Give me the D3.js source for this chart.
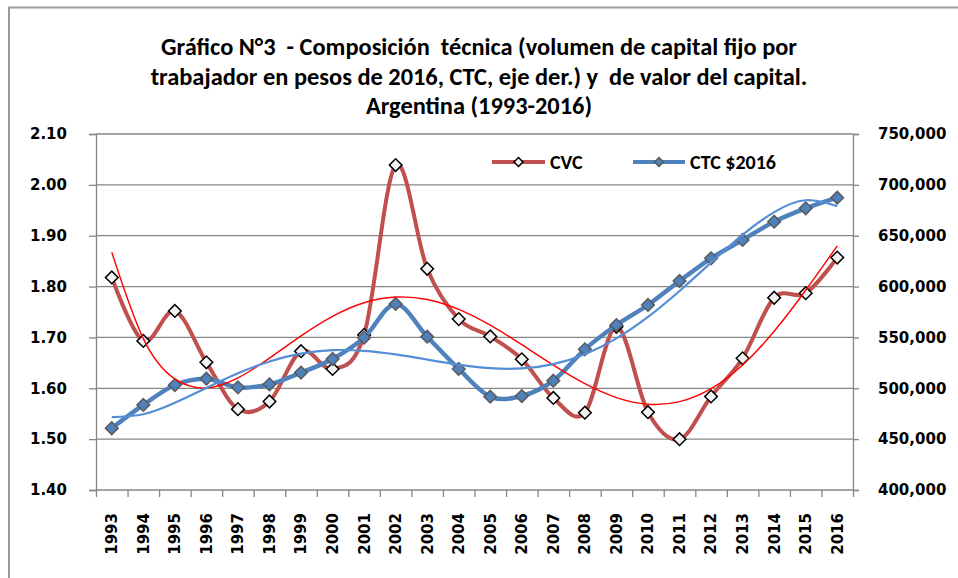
<!DOCTYPE html>
<html><head><meta charset="utf-8">
<script src="https://cdn.jsdelivr.net/npm/d3@7/dist/d3.min.js"></script>
<style>body{margin:0;background:#fff}svg{display:block}</style>
</head><body><svg id="c" width="958" height="578"></svg>
<script>
const years = ["1993","1994","1995","1996","1997","1998","1999","2000","2001","2002","2003","2004","2005","2006","2007","2008","2009","2010","2011","2012","2013","2014","2015","2016"];
const cvc = [1.818,1.693,1.752,1.651,1.559,1.574,1.673,1.638,1.705,2.039,1.835,1.736,1.702,1.657,1.581,1.552,1.721,1.553,1.500,1.584,1.659,1.778,1.787,1.857];
const ctc = [460700,483600,503200,509400,500900,503900,515400,528800,549800,582900,550700,519000,491800,492400,507500,538300,562200,581900,605500,627800,645800,663800,676900,687400];
const leftTicks = [1.40,1.50,1.60,1.70,1.80,1.90,2.00,2.10];
const rightTicks = [400000,450000,500000,550000,600000,650000,700000,750000];
const titleLines = ["Gráfico N°3  - Composición  técnica (volumen de capital fijo por","trabajador en pesos de 2016, CTC, eje der.) y  de valor del capital.","Argentina (1993-2016)"];
const seriesNames = ["CVC","CTC $2016"];
const cvcTrendOrder = 5;
const ctcTrendOrder = 6;

const svg = d3.select("#c");
const L = 96, R = 853, T = 134, B = 490;
const titleFont = "Carlito,Calibri,'Liberation Sans Narrow','Open Sans',sans-serif";
const axisFont = "'DejaVu Sans',Verdana,sans-serif";

svg.append("rect").attr("x",9).attr("y",7.5).attr("width",960).attr("height",580)
  .attr("fill","none").attr("stroke","#9a9a9a").attr("stroke-width",2);

const x = d3.scaleBand().domain(years).range([L,R]);
const cx = d => x(d) + x.bandwidth()/2;
const yL = d3.scaleLinear().domain([1.4,2.1]).range([B,T]);
const yR = d3.scaleLinear().domain([400000,750000]).range([B,T]);

svg.append("g").selectAll("line").data(leftTicks.slice(1)).join("line")
  .attr("x1",L).attr("x2",R).attr("y1",d=>yL(d)).attr("y2",d=>yL(d))
  .attr("stroke","#868686").attr("stroke-width",1.3);

const gL = svg.append("g").attr("transform",`translate(${L},0)`)
  .call(d3.axisLeft(yL).tickValues(leftTicks).tickFormat(d3.format(".2f")).tickSize(7).tickPadding(22));
const gR = svg.append("g").attr("transform",`translate(${R},0)`)
  .call(d3.axisRight(yR).tickValues(rightTicks).tickFormat(d3.format(",")).tickSize(6).tickPadding(19));
const bnd = d3.scaleLinear().domain([0,years.length]).range([L,R]);
const gB = svg.append("g").attr("transform",`translate(0,${B})`)
  .call(d3.axisBottom(bnd).tickValues(d3.range(years.length+1)).tickFormat("").tickSize(7));
const gX = svg.append("g").attr("transform",`translate(0,${B})`)
  .call(d3.axisBottom(x).tickSize(0));
gX.select(".domain").remove();
gX.selectAll("text").attr("x",0).attr("y",0).attr("dy","0.36em")
  .attr("text-anchor","end").attr("transform","translate(0,23) rotate(-90)");
[gL,gR,gB].forEach(g=>{
  g.selectAll(".domain,.tick line").attr("stroke","#868686").attr("stroke-width",1.3);
});
gB.select(".domain").attr("d",`M${L},0H${R}`);
[gL,gR,gX].forEach(g=>g.selectAll("text").attr("font-family",axisFont).attr("font-size","15px")
  .attr("font-weight","bold").attr("fill","#000"));

function polyFit(ys, order){
  const n = ys.length, m = order+1;
  const ts = ys.map((_,i)=>(i-(n-1)/2)/((n-1)/2));
  const A = Array.from({length:m},()=>new Array(m+1).fill(0));
  for(let i=0;i<n;i++){
    const p = []; for(let k=0;k<m;k++) p.push(Math.pow(ts[i],k));
    for(let r=0;r<m;r++){ for(let c=0;c<m;c++) A[r][c]+=p[r]*p[c]; A[r][m]+=p[r]*ys[i]; }
  }
  for(let c=0;c<m;c++){
    let piv=c; for(let r=c+1;r<m;r++) if(Math.abs(A[r][c])>Math.abs(A[piv][c])) piv=r;
    [A[c],A[piv]]=[A[piv],A[c]];
    for(let r=0;r<m;r++){ if(r===c) continue; const f=A[r][c]/A[c][c];
      for(let k=c;k<=m;k++) A[r][k]-=f*A[c][k]; }
  }
  const coef = A.map((row,i)=>row[m]/row[i]);
  return ts.map(t=>coef.reduce((s,c,k)=>s+c*Math.pow(t,k),0));
}
const cvcTrend = polyFit(cvc, cvcTrendOrder);
const ctcTrend = polyFit(ctc, ctcTrendOrder);

const smooth = d3.curveCardinal.tension(0);
const lineL = d3.line().x((d,i)=>cx(years[i])).y(d=>yL(d)).curve(smooth);
const lineR = d3.line().x((d,i)=>cx(years[i])).y(d=>yR(d)).curve(smooth);
const lineLt = d3.line().x((d,i)=>cx(years[i])).y(d=>yL(d)).curve(d3.curveNatural);
const lineRt = d3.line().x((d,i)=>cx(years[i])).y(d=>yR(d)).curve(d3.curveNatural);
const diamond = d3.symbol().type(d3.symbolSquare).size(80);

svg.append("path").datum(cvc).attr("d",lineL).attr("fill","none").attr("stroke","#C0504D").attr("stroke-width",4);
svg.append("g").selectAll("path").data(cvc).join("path").attr("d",diamond)
  .attr("transform",(d,i)=>`translate(${cx(years[i])},${yL(d)}) rotate(45)`)
  .attr("fill","#F2F2F2").attr("stroke","#000").attr("stroke-width",1.5);
svg.append("path").datum(ctc).attr("d",lineR).attr("fill","none").attr("stroke","#4F81BD").attr("stroke-width",4.5);
svg.append("g").selectAll("path").data(ctc).join("path").attr("d",diamond)
  .attr("transform",(d,i)=>`translate(${cx(years[i])},${yR(d)}) rotate(45)`)
  .attr("fill","#4F81BD").attr("stroke","#5a5a5a").attr("stroke-width",1.5);
svg.append("path").datum(cvcTrend).attr("d",lineLt).attr("fill","none").attr("stroke","#FF0000").attr("stroke-width",1.4);
svg.append("path").datum(ctcTrend).attr("d",lineRt).attr("fill","none").attr("stroke","#558ED5").attr("stroke-width",2.2);

svg.append("g").selectAll("text").data(titleLines).join("text")
  .attr("x",479).attr("y",(d,i)=>55+i*29.5).attr("text-anchor","middle").style("white-space","pre")
  .attr("font-family",titleFont).attr("font-size","24.4px").attr("font-weight","bold").attr("fill","#000")
  .text(d=>d);

const leg = [{x1:492,x2:545,tx:550,stroke:"#C0504D",fill:"#F2F2F2",ms:"#000"},
             {x1:633,x2:685,tx:690,stroke:"#4F81BD",fill:"#4F81BD",ms:"#5a5a5a"}];
const lg = svg.append("g").selectAll("g").data(seriesNames).join("g");
lg.append("line").attr("x1",(d,i)=>leg[i].x1).attr("x2",(d,i)=>leg[i].x2).attr("y1",162).attr("y2",162)
  .attr("stroke",(d,i)=>leg[i].stroke).attr("stroke-width",4);
lg.append("path").attr("d",d3.symbol().type(d3.symbolSquare).size(40))
  .attr("transform",(d,i)=>`translate(${(leg[i].x1+leg[i].x2)/2},162) rotate(45)`)
  .attr("fill",(d,i)=>leg[i].fill).attr("stroke",(d,i)=>leg[i].ms).attr("stroke-width",1.5);
lg.append("text").attr("x",(d,i)=>leg[i].tx).attr("y",169)
  .attr("font-family",titleFont).attr("font-size","20px").attr("font-weight","bold").attr("fill","#000")
  .text(d=>d);
</script></body></html>
